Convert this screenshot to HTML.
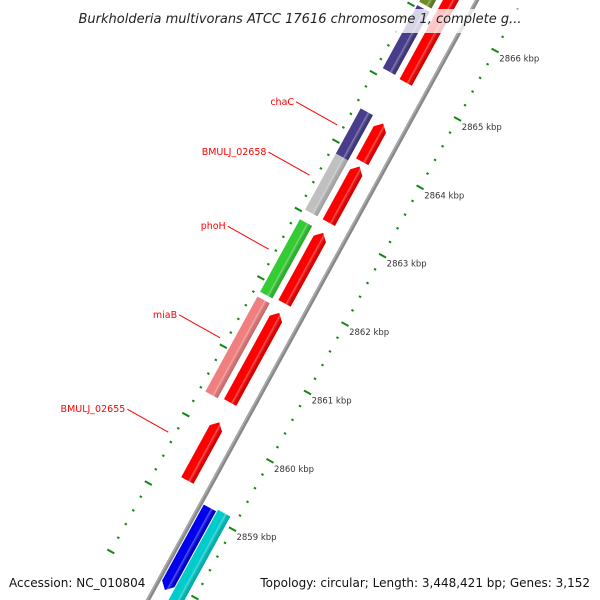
<!DOCTYPE html>
<html><head><meta charset="utf-8"><style>
html,body{margin:0;padding:0;background:#fff;width:600px;height:600px;overflow:hidden;}
svg{display:block;font-family:"DejaVu Sans","Liberation Sans",sans-serif;}
</style></head><body>
<svg id="map" width="600" height="600" viewBox="0 0 600 600" xmlns="http://www.w3.org/2000/svg">
<defs>
<linearGradient id="shade" x1="0" y1="0" x2="0" y2="1">
<stop offset="0" stop-color="#fff" stop-opacity="0"/>
<stop offset="0.55" stop-color="#fff" stop-opacity="0"/>
<stop offset="0.62" stop-color="#fff" stop-opacity="0.35"/>
<stop offset="0.85" stop-color="#000" stop-opacity="0.12"/>
<stop offset="1" stop-color="#000" stop-opacity="0.2"/>
</linearGradient>
</defs>
<g id="track" transform="translate(148,600) rotate(-61.25)"></g>
<g id="labels"></g>
<rect x="55" y="9" width="490" height="24" fill="#fff" opacity="0.78"/>
<text x="300" y="23" text-anchor="middle" font-size="13" font-style="italic" fill="#222">Burkholderia multivorans ATCC 17616 chromosome 1, complete g...</text>
<rect x="4" y="572" width="142" height="22" fill="#fff" opacity="0.8"/>
<text x="9" y="587" font-size="12" fill="#111">Accession: NC_010804</text>
<rect x="256" y="572" width="340" height="22" fill="#fff" opacity="0.8"/>
<text x="590" y="587" text-anchor="end" font-size="12" fill="#111">Topology: circular; Length: 3,448,421 bp; Genes: 3,152</text>
</svg>
<script>
// ---- data ----
const tickKbp = [2858, 2859, 2860, 2861, 2862, 2863, 2864, 2865, 2866, 2867];
const tickLabels = ["2858 kbp","2859 kbp","2860 kbp","2861 kbp","2862 kbp","2863 kbp","2864 kbp","2865 kbp","2866 kbp","2867 kbp"];
const geneNames = ["BMULJ_02655","red-2","red-3","red-4","red-5","red-6","miaB","phoH","BMULJ_02658","chaC","purple-2","olive","blue","cyan"];
const geneStart = [2859.27,2860.41,2861.86,2863.04,2863.93,2865.09,2860.38,2861.84,2863.04,2863.86,2865.11,2866.08,2857.9,2857.6];
const geneEnd   = [2860.12,2861.72,2862.89,2863.86,2864.49,2866.9,2861.77,2862.90,2863.87,2864.52,2866.03,2866.9,2859.10,2859.13];
const geneStrand = [1,1,1,1,1,1,0,0,0,0,0,0,-1,0];
const geneTrack = ["A","A","A","A","A","A","B","B","B","B","B","B","C","D"];
const geneColor = ["#ff0000","#ff0000","#ff0000","#ff0000","#ff0000","#ff0000","#f08080","#33cc33","#c0c0c0","#483d8b","#483d8b","#6b8e23","#0000ee","#00cccc"];
const labelled = ["BMULJ_02655","miaB","phoH","BMULJ_02658","chaC"];

// ---- scales ----
const A0 = 102.7, PX = 78;
function along(k){ return A0 + (k - 2859) * PX; }
const trackPerp = {A:[-30,-16], B:[-50,-36], C:[3,17], D:[18,32]};
const U=[0.4813,-0.8766], N=[0.8766,0.4813];
function toScreen(a,p){ return [148 + a*U[0] + p*N[0], 600 + a*U[1] + p*N[1]]; }

const NS="http://www.w3.org/2000/svg";
const g=document.getElementById('track');
const lg=document.getElementById('labels');
function mk(t,attrs,parent){const e=document.createElementNS(NS,t);for(const k in attrs)e.setAttribute(k,attrs[k]);parent.appendChild(e);return e;}

// backbone
const bb=mk('line',{x1:-20,y1:0,x2:760,y2:0,stroke:'#888','stroke-width':4},g);


const bb2=mk('line',{x1:-20,y1:-1,x2:760,y2:-1,stroke:'#aaa','stroke-width':1.5},g);



// ticks
const rings=[{p:40,name:'outer'},{p:-56,name:'inner'}];
rings.forEach(r=>{
  for(let i=0;i<tickKbp.length-1;i++){
    for(let j=0;j<5;j++){
      const k=tickKbp[i]+j*0.2;
      const a=along(k);
      if(a<-20||a>760) continue;
      if(j===0){
        const t=mk('line',{x1:a,y1:r.p-4,x2:a,y2:r.p+4,stroke:'#118811','stroke-width':2},g);
        
        
      } else {
        const t=mk('line',{x1:a,y1:r.p-1.2,x2:a,y2:r.p+1.2,stroke:'#118811','stroke-width':2},g);
        
        
      }
    }
  }
});
tickKbp.forEach((k,i)=>{
  const s=toScreen(along(k),40);
  if(s[1]<40||s[1]>570) return;
  const t=mk('text',{x:s[0]+4,y:s[1]+11,'font-size':8.5,fill:'#333'},lg);
  t.textContent=tickLabels[i];
  
  
});

// genes
geneNames.forEach((nm,i)=>{
  const a1=along(geneStart[i]), a2=along(geneEnd[i]);
  const [p1,p2]=trackPerp[geneTrack[i]];
  const pm=(p1+p2)/2, h=7;
  let d;
  if(geneStrand[i]===1) d=`M${a1},${p1} L${a2-h},${p1} L${a2},${pm} L${a2-h},${p2} L${a1},${p2} Z`;
  else if(geneStrand[i]===-1) d=`M${a1+h},${p1} L${a2},${p1} L${a2},${p2} L${a1+h},${p2} L${a1},${pm} Z`;
  else d=`M${a1},${p1} L${a2},${p1} L${a2},${p2} L${a1},${p2} Z`;
  const e=mk('path',{d:d,fill:geneColor[i]},g);
  
  
  const sh=mk('path',{d:d,fill:'url(#shade)'},g);
  
  
  if(labelled.indexOf(nm)>=0){
    const am=(a1+a2)/2;
    const e1=toScreen(am,-63);
    const x0=e1[0]-41, y0=e1[1]-23;
    const ln=mk('line',{x1:x0,y1:y0,x2:e1[0],y2:e1[1],stroke:'#ff0000','stroke-width':1},lg);
    
    
    const t=mk('text',{x:x0-2,y:y0+3,'text-anchor':'end','font-size':9.5,fill:'#ff0000'},lg);
    t.textContent=nm;
    
    
  }
});
</script>
</body></html>
